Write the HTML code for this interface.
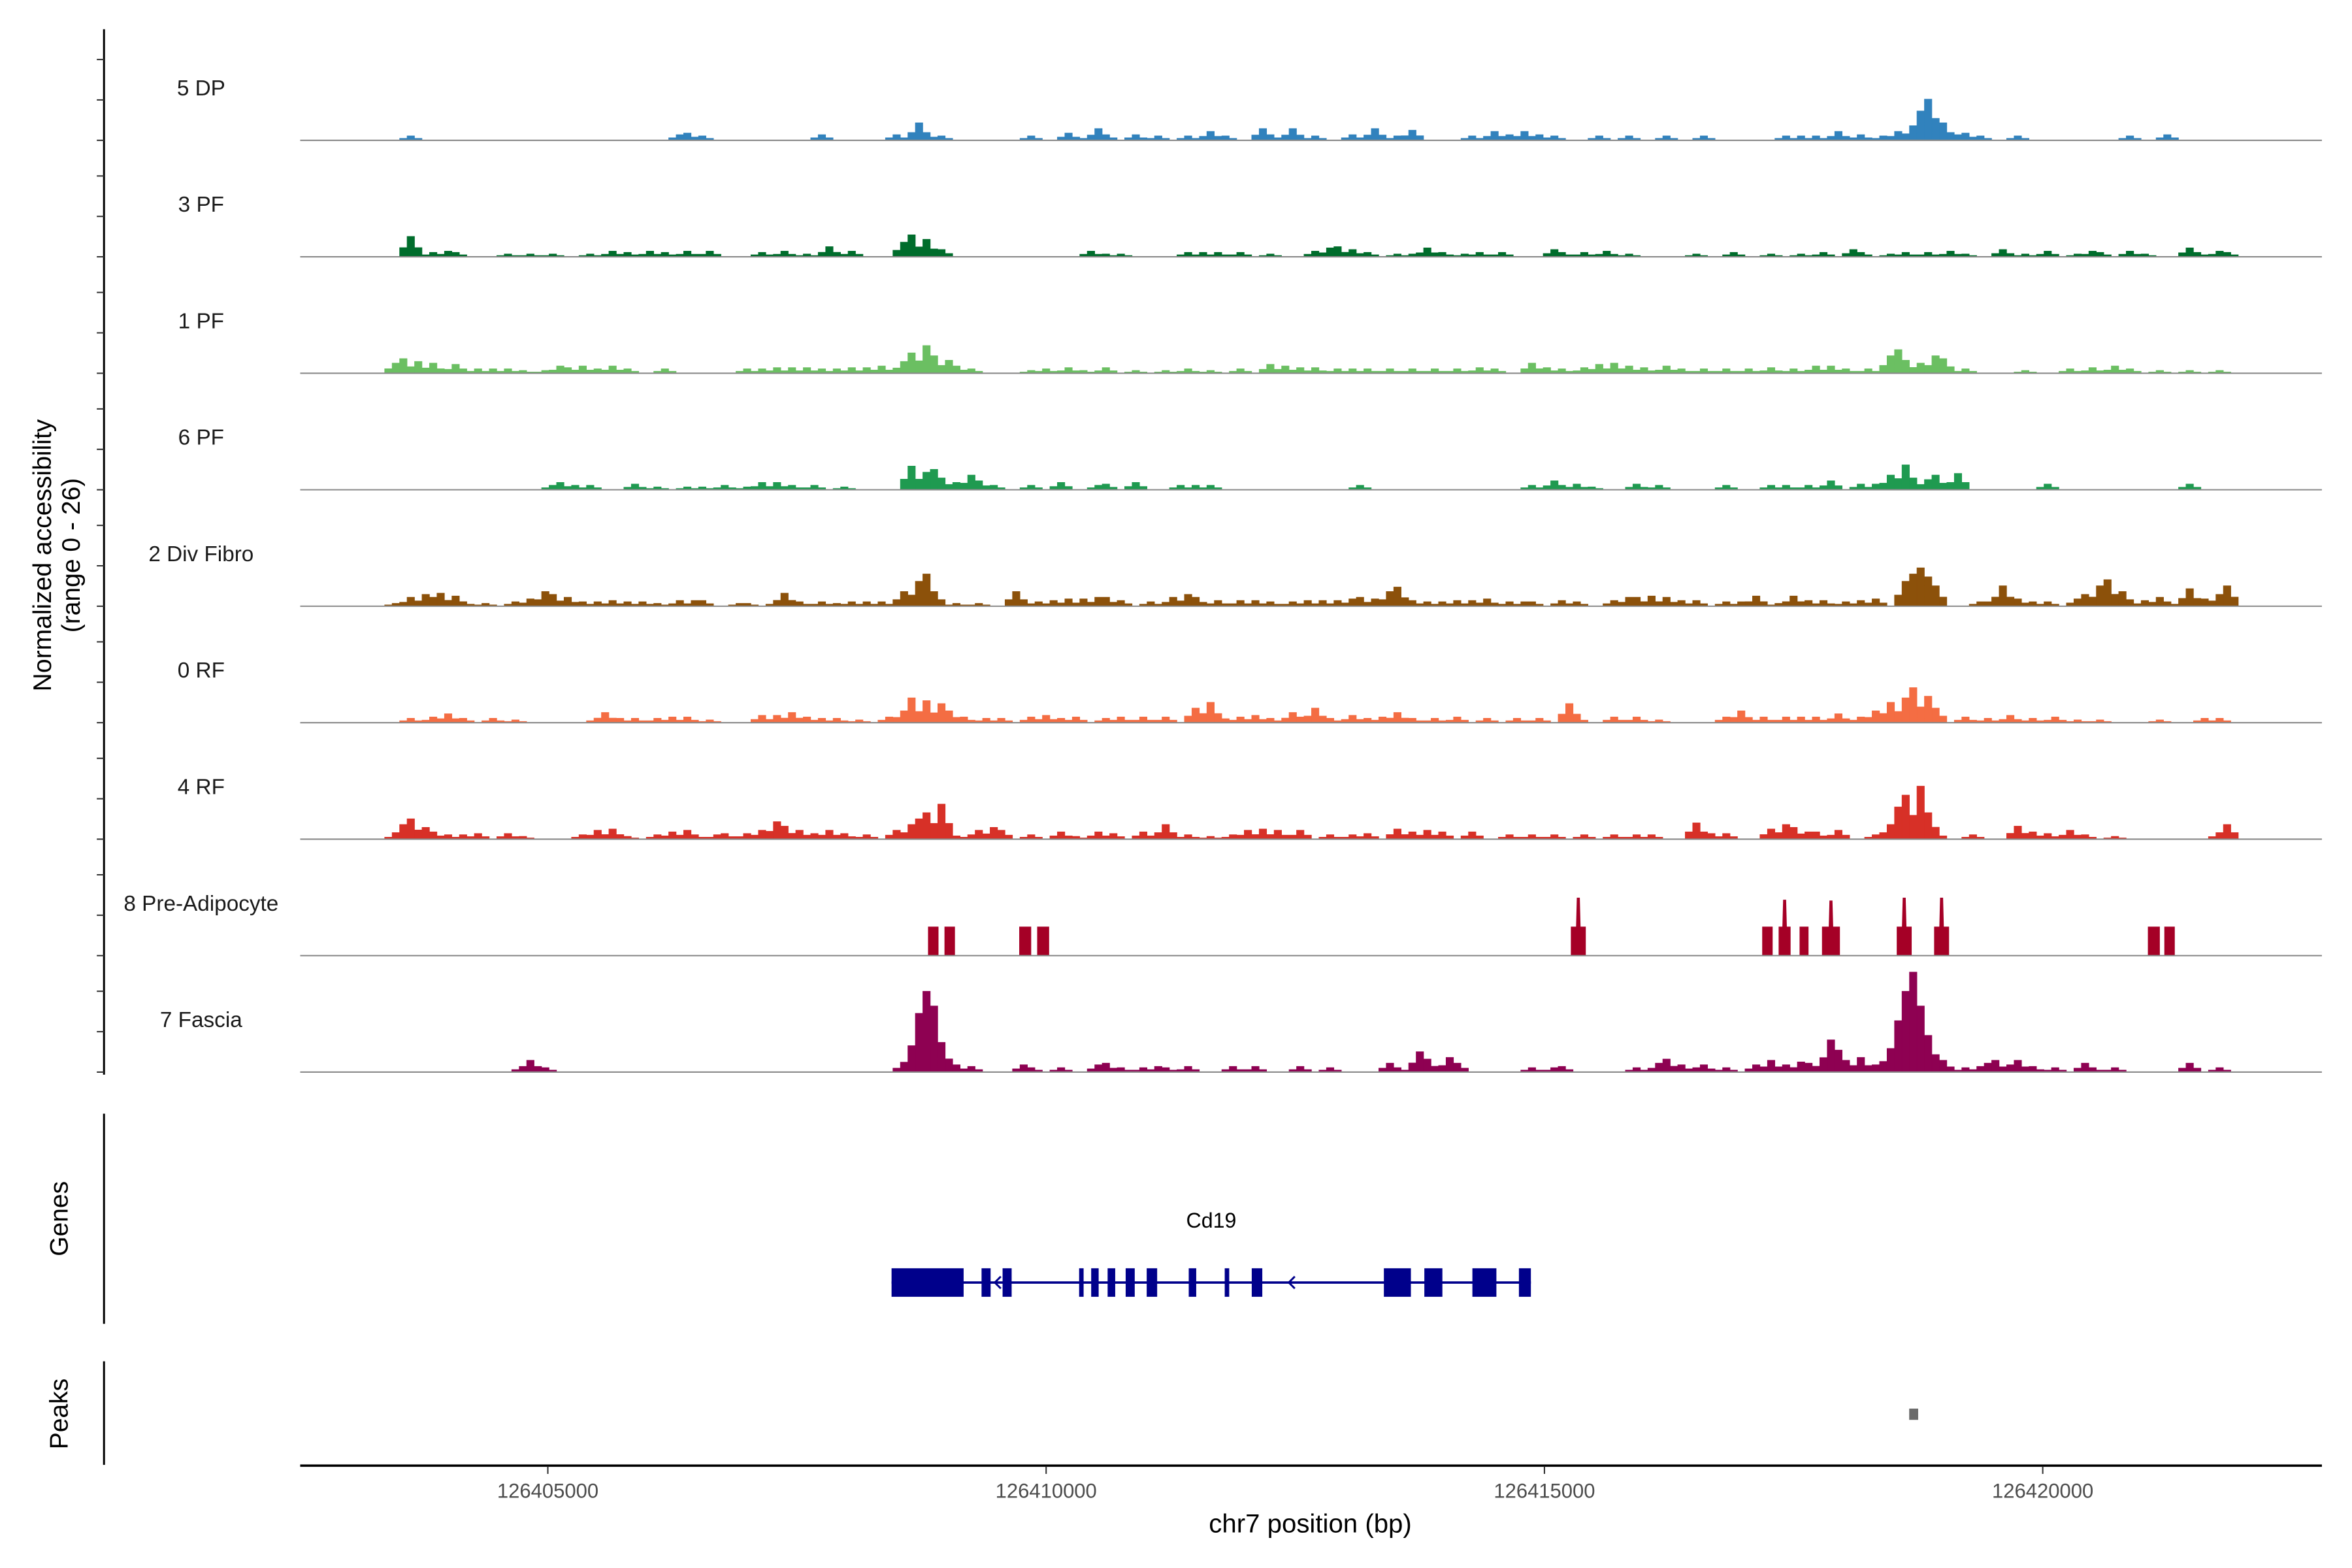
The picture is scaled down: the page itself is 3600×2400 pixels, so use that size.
<!DOCTYPE html>
<html><head><meta charset="utf-8">
<style>
html,body{margin:0;padding:0;background:#fff;}
svg{display:block;font-family:"Liberation Sans",Arial,sans-serif;}
</style></head>
<body>
<svg id="chart" xmlns="http://www.w3.org/2000/svg" width="3600" height="2400" viewBox="0 0 1560 1040">
<rect x="0" y="0" width="1560" height="1040" fill="#fff"/>
<g transform="scale(0.9955)">
<g id="tracks"></g>
<g id="genes"></g>
<g id="peaks"></g>
<g id="axes"></g>
</g>
</svg>
<script>
// ---- data ----
const binStart = 126402500; // bp of bin 0
const binSize = 75;         // bp per bin
const trackNames = ["5 DP","3 PF","1 PF","6 PF","2 Div Fibro","0 RF","4 RF","8 Pre-Adipocyte","7 Fascia"];
const trackColors = ["#3182bd","#006d2c","#6bbf62","#1f9a50","#8c510a","#f46d43","#d73027","#a50026","#8e0152"];
const xTicks = [126405000,126410000,126415000,126420000];
const yTicks = [0,10,20];

const dpBins = [15,51,52,54,70,80,83,84,86,98,103,106,107,108,112,115,119,122,124,129,130,133,136,141,144,147,149,157,160,162,164,166,168,174,178,183,188,199,201,203,206,209,212,214,216,217,218,219,220,222,223,225,230,245,250];
const dpVals = [1.1,1.4,1.8,1.1,1.4,1.4,4.3,1.8,1.1,1.1,1.8,1.1,2.9,1.4,1.4,1.1,1.1,2.2,1.1,2.9,1.4,2.9,1.1,1.4,2.9,1.1,2.5,1.1,2.2,1.4,2.2,1.4,1.1,1.1,1.1,1.1,1.1,1.1,1.1,1.1,2.2,1.4,1.1,2.2,3.6,7.2,10.1,5.4,4.3,1.4,1.8,1.1,1.1,1.1,1.4];

const pf3Bins = [15,18,20,21,28,31,34,39,42,44,47,49,52,55,62,65,68,71,74,81,82,84,86,106,108,110,119,121,123,126,130,136,138,139,141,143,147,149,151,153,156,158,161,168,169,172,175,178,187,192,197,201,204,208,209,213,215,218,221,223,228,231,234,238,240,241,245,247,253,254,257,258];
const pf3Vals = [5.0,1.1,1.4,1.1,0.7,0.7,0.7,0.7,1.4,1.1,1.4,1.1,1.4,1.4,1.1,1.4,0.7,2.5,1.4,3.6,5.4,4.3,1.8,1.4,0.7,0.7,1.1,1.1,1.1,1.1,0.7,1.4,2.2,2.5,1.8,1.1,0.7,0.7,2.2,1.1,0.7,1.1,1.1,1.8,1.1,1.1,1.4,0.7,0.7,1.1,0.7,0.7,1.1,1.8,1.1,0.7,1.1,1.1,1.4,0.7,1.8,0.7,1.4,0.7,1.4,1.1,1.4,0.7,2.2,1.1,1.4,1.1];

const pf1Bins = [13,14,16,18,21,22,24,26,28,30,33,35,36,38,40,42,44,49,60,62,64,66,68,70,72,74,76,78,81,82,84,85,87,88,90,98,100,103,105,108,112,116,119,122,126,130,132,134,136,139,141,143,146,149,152,155,158,160,165,167,169,172,174,176,178,180,183,185,188,191,194,197,200,203,205,207,210,213,214,215,217,219,220,223,231,237,240,243,245,249,253,257];
const pf1Vals = [2.5,3.6,2.9,2.5,2.2,1.1,1.1,1.1,1.1,0.7,0.7,1.8,1.4,1.8,1.1,1.8,1.1,1.1,1.1,1.1,1.4,1.4,1.4,1.1,1.1,1.4,1.4,1.8,2.9,5.0,6.8,4.3,3.2,1.8,1.1,0.7,1.1,1.4,0.7,1.4,0.7,0.7,1.1,0.7,1.1,2.2,1.8,1.4,1.4,1.1,1.1,1.1,1.1,1.1,1.1,1.1,1.4,1.1,2.5,1.4,1.1,1.4,2.2,2.5,1.8,1.4,1.8,1.1,1.1,1.1,1.1,1.4,1.1,1.8,1.8,1.1,1.1,4.3,5.8,3.2,2.5,4.3,3.6,1.1,0.7,1.1,1.4,1.8,1.1,0.7,0.7,0.7];

const pf6Bins = [34,35,37,39,45,48,52,54,57,60,62,64,66,69,73,82,84,85,86,88,90,91,93,98,102,107,108,112,118,120,122,142,165,168,169,171,173,179,182,191,197,199,202,205,209,211,213,215,216,218,219,222,234,253];
const pf6Vals = [1.1,1.8,1.1,1.1,1.4,0.7,0.7,0.7,1.1,0.7,1.8,1.8,1.1,1.1,0.7,5.8,4.3,5.0,2.9,1.8,3.6,2.2,1.1,1.1,1.8,1.1,1.4,1.8,1.1,1.1,1.1,1.1,1.1,2.2,1.1,1.4,0.7,1.4,1.1,1.1,1.1,1.1,1.1,2.2,1.4,1.4,3.6,6.1,2.9,2.5,3.6,4.0,1.4,1.4];

const divBins = [13,15,17,18,19,21,22,25,29,31,33,34,36,38,40,42,44,46,48,51,53,54,59,60,64,65,67,70,72,74,76,78,81,83,84,85,88,91,96,97,99,101,103,105,107,108,110,114,117,119,120,123,126,128,130,133,135,137,139,141,142,144,146,147,149,151,153,155,157,159,162,164,165,169,171,176,178,179,181,183,185,187,191,193,195,198,200,202,204,207,209,211,215,216,217,218,219,225,226,228,230,232,234,238,239,241,242,244,247,249,250,253,255,257,258];
const divVals = [0.7,2.2,2.9,2.2,3.2,2.5,1.1,0.7,1.1,1.8,3.6,2.9,2.2,1.1,1.1,1.4,1.1,1.1,0.7,1.4,1.4,1.4,0.7,0.7,1.1,3.2,1.1,1.1,0.7,1.1,1.1,1.1,3.6,6.1,7.9,3.6,0.7,0.7,3.6,1.4,1.1,1.4,1.8,1.8,2.2,2.2,1.4,1.1,2.2,2.9,2.2,1.4,1.4,1.4,1.1,1.1,1.4,1.4,1.4,1.8,2.2,1.8,3.6,4.7,1.4,1.1,1.1,1.4,1.4,1.8,1.1,1.1,1.1,1.4,1.1,1.4,2.2,2.2,2.5,2.2,1.4,1.4,1.1,1.1,2.5,0.7,2.5,1.4,1.4,1.1,1.4,1.8,6.1,7.9,9.4,7.2,5.0,1.1,1.1,5.0,1.8,1.1,1.1,1.8,2.9,5.0,6.5,3.6,1.4,2.2,1.1,4.3,1.8,2.9,5.0];

const rf0Bins = [15,18,20,22,26,29,40,41,43,45,48,50,52,55,62,64,66,68,70,72,75,79,81,82,84,86,87,89,92,94,98,100,102,104,108,110,113,116,120,122,123,126,128,130,133,134,136,138,141,143,145,147,149,152,155,159,163,166,170,171,176,179,182,191,193,196,199,201,203,206,209,211,213,215,216,218,219,223,226,229,232,235,238,241,249,255,257];
const rf0Vals = [1.1,1.4,2.2,1.1,1.1,0.7,1.1,2.5,1.1,1.1,1.1,1.4,1.4,0.7,1.8,1.8,2.5,1.4,1.1,1.1,0.7,1.4,2.9,6.1,5.4,4.7,2.9,1.4,1.1,1.1,1.4,1.8,1.1,1.4,1.1,1.4,1.4,1.4,3.6,5.0,2.2,1.4,1.8,1.1,2.5,1.4,3.6,1.1,1.8,1.1,1.4,2.5,1.1,1.1,1.4,1.1,1.1,1.1,4.7,1.4,1.4,1.4,0.7,1.4,2.9,1.4,1.4,1.4,1.4,2.2,1.4,2.9,5.0,6.1,8.6,6.5,3.6,1.4,1.1,1.8,1.1,1.4,0.7,0.7,0.7,1.1,1.1];

const rf4Bins = [13,14,15,17,18,20,22,24,28,30,38,40,42,44,48,50,52,53,56,57,60,62,64,65,67,69,71,73,76,80,82,83,84,86,87,90,91,93,94,98,102,104,107,109,113,116,119,122,125,127,129,131,134,138,141,143,147,149,151,153,157,162,165,168,172,176,179,181,187,189,191,197,199,200,202,203,206,211,213,214,215,217,218,219,224,230,232,234,237,239,243,257,258];
const rf4Vals = [1.1,3.6,5.0,2.9,1.8,1.1,1.1,1.4,1.4,0.7,1.1,2.2,2.5,0.7,1.1,1.8,2.2,1.1,1.1,1.4,1.4,2.2,4.3,3.2,2.2,1.4,2.2,1.4,1.1,2.2,3.6,5.0,6.5,8.6,1.8,1.1,2.2,2.9,2.2,1.1,1.8,0.7,1.8,1.4,1.8,3.6,1.1,0.7,1.1,2.2,2.5,2.2,2.2,1.1,1.1,1.4,2.5,1.8,2.2,1.8,1.8,1.1,1.1,1.1,1.1,1.1,1.1,1.1,4.0,1.4,1.4,2.5,3.6,2.9,1.8,1.8,2.2,1.1,3.6,7.9,10.8,13.0,6.5,1.8,1.1,3.2,1.8,1.4,2.2,1.1,0.7,1.4,3.6];

const preStarts = [84.2,86.4,96.4,98.8,170.2,195.8,198,200.8,203.8,213.8,218.8,247.4,249.6];
const preEnds   = [85.6,87.8,98,100.4,172.2,197.2,199.6,202,206.2,215.8,220.8,249,251];
const preVals   = [7.1,7.1,7.1,7.1,7.1,7.1,7.1,7.1,7.1,7.1,7.1,7.1,7.1];
const preSpikeBins = [171.2,198.8,205,214.8,219.8];
const preSpikeVals = [14.2,13.7,13.5,14.2,14.2];

const fasBins = [30,31,32,33,81,82,83,84,85,86,88,90,97,98,102,107,108,110,113,115,116,119,125,128,134,138,146,147,150,151,154,155,165,168,169,179,182,183,185,187,188,191,195,197,199,201,202,204,205,206,207,209,211,213,214,215,216,217,218,219,220,223,225,226,227,229,230,232,235,239,240,243,253,257];
const fasVals = [1.4,2.9,1.4,1.1,2.2,5.4,14.4,19.8,16.2,7.2,1.8,1.4,1.8,1.1,1.1,1.8,2.2,1.1,1.1,1.4,1.1,1.4,1.4,1.4,1.4,1.1,2.2,1.1,5.0,3.2,3.6,2.2,1.1,1.1,1.4,1.1,2.2,3.2,1.8,1.1,1.8,1.1,1.8,2.9,1.8,2.5,2.2,3.2,7.9,5.4,2.9,3.6,1.8,5.8,12.6,19.8,24.5,16.2,9.0,4.3,2.9,1.1,1.4,2.2,2.9,1.8,2.9,1.4,1.1,2.2,1.1,1.1,2.2,1.1];

const geneName = "Cd19";
const geneStart = 126408449, geneEnd = 126414864;
const exonStarts = [126408449,126409352,126409563,126410331,126410452,126410617,126410798,126411009,126411431,126411792,126412063,126413389,126413795,126414277,126414744];
const exonEnds   = [126409172,126409443,126409654,126410376,126410527,126410693,126410889,126411114,126411506,126411837,126412169,126413660,126413976,126414518,126414864];
const strandArrows = [126409500,126412450];
const peakStarts = [126418660];
const peakEnds = [126418750];

// ---- scales ----
const NS = "http://www.w3.org/2000/svg";
function X(bp){ return 365 + (bp - 126405000) * 332 / 5000; }
function binBp(b){ return binStart + b * binSize; }
const trackTop0 = 93.5, trackStep = 77.6, pxPerUnit = 2.72;
function baseY(i){ return trackTop0 + i * trackStep; }
function Y(i, v){ return baseY(i) - v * pxPerUnit; }
function mk(tag, attrs, parent){
  const e = document.createElementNS(NS, tag);
  for (const k in attrs) e.setAttribute(k, attrs[k]);
  parent.appendChild(e); return e;
}
const gT = document.getElementById('tracks');
const gG = document.getElementById('genes');
const gP = document.getElementById('peaks');
const gA = document.getElementById('axes');

const series = [[dpBins,dpVals],[pf3Bins,pf3Vals],[pf1Bins,pf1Vals],[pf6Bins,pf6Vals],[divBins,divVals],[rf0Bins,rf0Vals],[rf4Bins,rf4Vals],null,[fasBins,fasVals]];

for (let i = 0; i < trackNames.length; i++){
  const lab = mk('text', {x:134, y:baseY(i)-30, 'font-size':14.5, 'text-anchor':'middle', fill:'#1a1a1a'}, gT);
  
  
  lab.textContent = trackNames[i];
  const s = series[i];
  if (s){
    const n = 280; const d = new Array(n).fill(0);
    for (let k = 0; k < s[0].length; k++){
      const b = Math.round(s[0][k]), v = s[1][k];
      d[b] = Math.max(d[b], v);
      if (b-1 >= 0) d[b-1] = Math.max(d[b-1], v*0.45);
      if (b+1 < n) d[b+1] = Math.max(d[b+1], v*0.45);
    }
    let p = '';
    for (let b = 0; b < n; b++){
      if (d[b] <= 0) continue;
      const x0 = X(binBp(b-0.5)), x1 = X(binBp(b+0.5));
      p += 'M'+x0.toFixed(2)+','+baseY(i)+'V'+Y(i,d[b]).toFixed(2)+'H'+x1.toFixed(2)+'V'+baseY(i)+'Z';
    }
    const path = mk('path', {d:p, fill:trackColors[i], stroke:trackColors[i], 'stroke-width':0.3}, gT);
    
    
  } else {
    for (let k = 0; k < preStarts.length; k++){
      const x0 = X(binBp(preStarts[k])), x1 = X(binBp(preEnds[k]));
      const r = mk('rect', {x:x0, y:Y(i,preVals[k]), width:x1-x0, height:preVals[k]*pxPerUnit, fill:trackColors[i]}, gT);
      
      
    }
    for (let k = 0; k < preSpikeBins.length; k++){
      const xc = X(binBp(preSpikeBins[k]));
      const sp = mk('path', {d:'M'+(xc-2)+','+baseY(i)+'L'+(xc-1)+','+Y(i,preSpikeVals[k])+'L'+(xc+1)+','+Y(i,preSpikeVals[k])+'L'+(xc+2)+','+baseY(i)+'Z', fill:trackColors[i]}, gT);
      
      
    }
  }
  const bl = mk('line', {x1:200, x2:1547, y1:baseY(i), y2:baseY(i), stroke:'#8a8a8a', 'stroke-width':0.9}, gT);
  
  
}

// left y-axis with ticks
const ya = mk('line', {x1:69.3, x2:69.3, y1:19.5, y2:716, stroke:'#000', 'stroke-width':1.3}, gA);


for (let i = 0; i < trackNames.length; i++){
  for (let t = 0; t < yTicks.length; t++){
    const y = Y(i, yTicks[t] * 0.99);
    const tk = mk('line', {x1:64.5, x2:69.3, y1:y, y2:y, stroke:'#333', 'stroke-width':0.9}, gA);
    
    
  }
}
const yt = mk('text', {transform:'translate(34,370) rotate(-90)', 'font-size':17, 'text-anchor':'middle', fill:'#000'}, gA);


yt.textContent = 'Normalized accessibility';
const yt2 = mk('text', {transform:'translate(53,370) rotate(-90)', 'font-size':17, 'text-anchor':'middle', fill:'#000'}, gA);


yt2.textContent = '(range 0 - 26)';

// genes panel
const ga = mk('line', {x1:69.3, x2:69.3, y1:742, y2:882, stroke:'#000', 'stroke-width':1.3}, gG);


const gl = mk('text', {transform:'translate(45,812) rotate(-90)', 'font-size':17, 'text-anchor':'middle', fill:'#000'}, gG);


gl.textContent = 'Genes';
const intr = mk('line', {x1:X(geneStart), x2:X(geneEnd), y1:854.5, y2:854.5, stroke:'#00008b', 'stroke-width':1.6}, gG);


for (let k = 0; k < exonStarts.length; k++){
  const ex = mk('rect', {x:X(exonStarts[k]), y:845, width:X(exonEnds[k])-X(exonStarts[k]), height:19, fill:'#00008b'}, gG);
  
  
}
for (let k = 0; k < strandArrows.length; k++){
  const ax = X(strandArrows[k]);
  const ar = mk('path', {d:'M'+(ax+3)+',850.5L'+(ax-1)+',854.5L'+(ax+3)+',858.5', fill:'none', stroke:'#00008b', 'stroke-width':1.3}, gG);
  
  
}
const gn = mk('text', {x:807, y:818, 'font-size':14, 'text-anchor':'middle', fill:'#000'}, gG);


gn.textContent = geneName;

// peaks panel
const pa = mk('line', {x1:69.3, x2:69.3, y1:907, y2:976, stroke:'#000', 'stroke-width':1.3}, gP);


const pl = mk('text', {transform:'translate(45,942) rotate(-90)', 'font-size':17, 'text-anchor':'middle', fill:'#000'}, gP);


pl.textContent = 'Peaks';
for (let k = 0; k < peakStarts.length; k++){
  const pr = mk('rect', {x:X(peakStarts[k]), y:938.5, width:Math.max(X(peakEnds[k])-X(peakStarts[k]),5), height:7.5, fill:'#6b6b6b'}, gP);
  
  
}

// x axis
const xa = mk('line', {x1:200, x2:1547, y1:976.5, y2:976.5, stroke:'#000', 'stroke-width':1.6}, gA);


for (let t = 0; t < xTicks.length; t++){
  const xx = X(xTicks[t]);
  const tk = mk('line', {x1:xx, x2:xx, y1:977, y2:982, stroke:'#333', 'stroke-width':0.9}, gA);
  
  
  const tl = mk('text', {x:xx, y:998, 'font-size':13.5, 'text-anchor':'middle', fill:'#4d4d4d'}, gA);
  
  
  tl.textContent = String(xTicks[t]);
}
const xt = mk('text', {x:873, y:1021, 'font-size':17.5, 'text-anchor':'middle', fill:'#000'}, gA);


xt.textContent = 'chr7 position (bp)';
</script>
</body></html>
